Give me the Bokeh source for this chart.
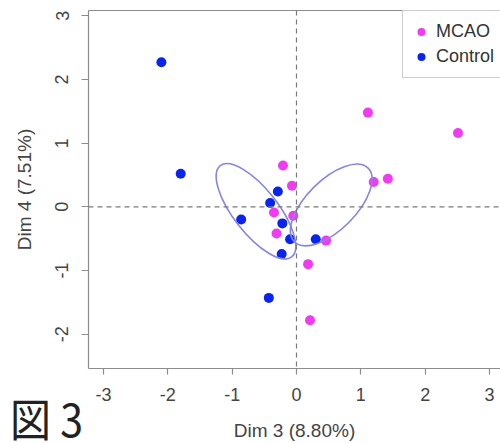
import numpy as np
from bokeh.plotting import figure
from bokeh.models import (Range1d, FixedTicker, LinearAxis, Span, Legend,
                          LegendItem, Div)
from bokeh.layouts import column
from bokeh.embed import file_html
from bokeh.resources import INLINE

# ---- data ----
groups = ["MCAO", "Control"]
mcao_x = [1.11, 2.51, -0.21, -0.07, 1.20, 1.42, -0.35, -0.05, -0.31, 0.46, 0.18, 0.21]
mcao_y = [1.48, 1.16, 0.65, 0.33, 0.39, 0.44, -0.09, -0.14, -0.42, -0.53, -0.90, -1.78]
ctrl_x = [-2.10, -1.80, -0.29, -0.41, -0.86, -0.22, -0.10, 0.30, -0.23, -0.43]
ctrl_y = [2.27, 0.52, 0.24, 0.06, -0.20, -0.26, -0.51, -0.51, -0.74, -1.43]

# confidence ellipses (Control, MCAO)
ell_x = [-0.63, 0.54]
ell_y = [-0.07, 0.03]
ell_w = [1.80, 1.62]
ell_h = [0.70, 0.78]
ell_angle_deg = [-52, 45]

x_ticks = [-3, -2, -1, 0, 1, 2, 3]
y_ticks = [-2, -1, 0, 1, 2, 3]
x_label = "Dim 3 (8.80%)"
y_label = "Dim 4 (7.51%)"
caption = "図 3"

FONT = "Liberation Sans"
MAG = "#F03CF0"
BLU = "#0A24F0"
ELL = "#8585E6"
FRAME = "#8C8C8C"

p = figure(width=500, height=443, output_backend="svg", toolbar_location=None,
           x_range=Range1d(-3.233, 3.171), y_range=Range1d(-2.539, 3.084),
           min_border_left=88, min_border_right=0, min_border_top=10,
           min_border_bottom=72, x_axis_location=None, y_axis_location=None)
p.outline_line_color = None
p.grid.visible = False
p.background_fill_color = "white"
p.border_fill_color = "white"

def style_axis(ax, ticks):
    ax.ticker = FixedTicker(ticks=ticks)
    ax.major_label_overrides = {t: str(t) for t in ticks}
    ax.minor_tick_line_color = None
    ax.major_tick_in = 0
    ax.axis_line_color = FRAME
    ax.axis_line_width = 1.2
    ax.major_tick_line_color = FRAME
    ax.major_tick_line_width = 1.2
    ax.major_label_text_font = FONT
    ax.major_label_text_font_size = "18px"
    ax.major_label_text_color = "#444444"
    ax.axis_label_text_font = FONT
    ax.axis_label_text_font_size = "19px"
    ax.axis_label_text_font_style = "normal"
    ax.axis_label_text_color = "#444444"

xax = LinearAxis(axis_label=x_label)
style_axis(xax, x_ticks)
xax.major_tick_out = 6
xax.major_label_standoff = 13
xax.axis_label_standoff = 16
p.add_layout(xax, "below")

yax = LinearAxis(axis_label=y_label)
style_axis(yax, y_ticks)
yax.major_tick_out = 7
yax.major_label_standoff = 13
yax.major_label_orientation = "vertical"
yax.axis_label_standoff = 18
p.add_layout(yax, "left")

top = LinearAxis(ticker=FixedTicker(ticks=[]))
top.major_tick_out = 0
top.major_tick_in = 0
top.minor_tick_line_color = None
top.major_label_standoff = 0
top.major_label_text_font_size = "0px"
top.axis_line_color = FRAME
top.axis_line_width = 1.2
p.add_layout(top, "above")

for dim in ("width", "height"):
    p.add_layout(Span(location=0, dimension=dim, line_color="#7A7A7A",
                      line_width=1.2, line_dash="5 4"))

r_c = p.scatter(ctrl_x, ctrl_y, size=10, color=BLU, line_color=None)
r_m = p.scatter(mcao_x, mcao_y, size=10, color=MAG, line_color=None)

p.ellipse(x=ell_x, y=ell_y, width=ell_w, height=ell_h,
          angle=list(np.radians(ell_angle_deg)), fill_color=None,
          line_color=ELL, line_width=1.6)

legend = Legend(items=[LegendItem(label=groups[0], renderers=[r_m]),
                       LegendItem(label=groups[1], renderers=[r_c])],
                location=(314, 290), margin=0, padding=8,
                glyph_width=20, glyph_height=25, label_height=25,
                spacing=0, label_standoff=5,
                label_text_font=FONT, label_text_font_size="18px",
                label_text_color="#333333",
                border_line_color="#999999", border_line_width=1.2,
                background_fill_color="white", background_fill_alpha=1)
p.add_layout(legend)

# caption drawn over the bottom-left corner of the figure
cap = Div(text=caption, width=90, height=40,
          styles={"position": "absolute", "left": "10px", "top": "395px",
                  "font-family": "'Noto Sans CJK JP', sans-serif",
                  "font-size": "41px", "line-height": "1",
                  "transform": "scaleY(1.1)", "transform-origin": "0 0",
                  "white-space": "nowrap", "overflow": "visible",
                  "color": "#222222", "margin": "0", "padding": "0",
                  "z-index": "10"})

layout = column(p, cap)
open("out.html", "w").write(file_html(layout, INLINE))
